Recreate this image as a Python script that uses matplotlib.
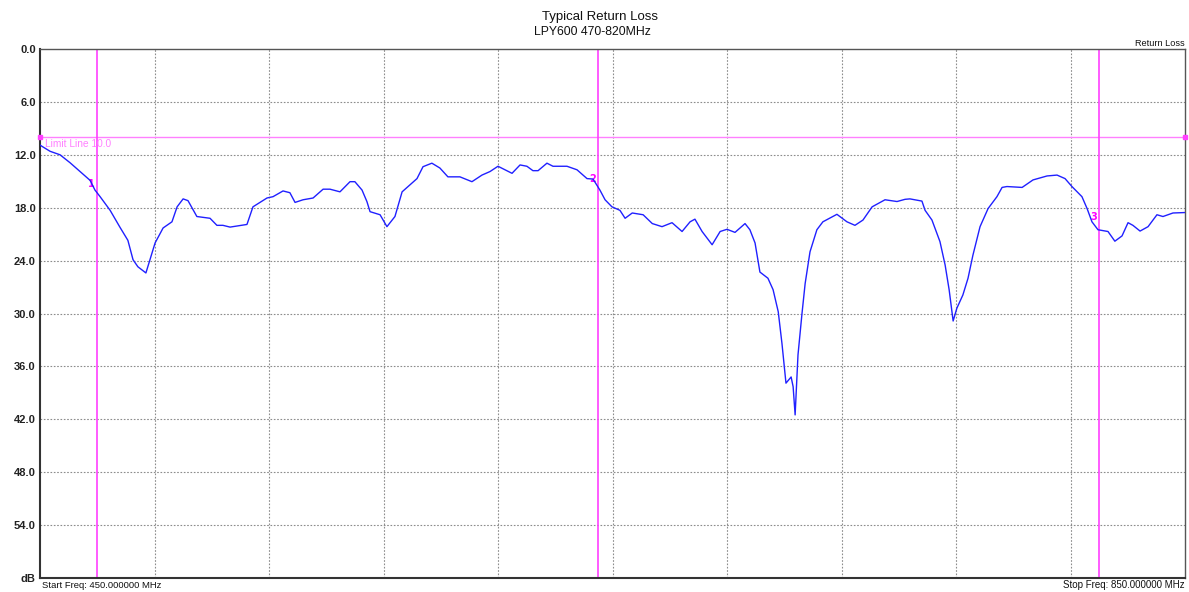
import matplotlib
matplotlib.use("Agg")
import matplotlib.pyplot as plt

# Frequency (MHz) and return loss (dB)
freq_mhz = [450.0, 453.5, 457.0, 460.5, 464.0, 467.5, 469.2, 471.0, 474.5, 477.9,
            480.7, 482.5, 484.2, 487.0, 488.4, 490.2, 493.0, 496.1, 497.9, 500.0,
            501.7, 504.8, 509.4, 511.8, 513.9, 516.4, 522.3, 524.4, 529.3, 531.4,
            534.9, 537.3, 539.1, 541.9, 545.4, 548.9, 551.3, 554.8, 558.3, 560.0,
            562.5, 564.2, 565.3, 568.8, 571.2, 574.0, 576.5, 579.3, 581.7, 583.8,
            586.9, 589.7, 592.5, 596.7, 600.9, 604.4, 607.2, 610.0, 614.9, 617.7,
            620.1, 622.2, 624.0, 627.1, 629.2, 634.1, 637.6, 641.1, 643.2, 645.6,
            647.4, 649.8, 652.6, 654.4, 656.9, 660.7, 663.9, 667.3, 670.8, 674.3,
            677.1, 678.8, 681.3, 684.8, 687.6, 690.0, 692.8, 696.3, 698.0, 699.8,
            701.5, 704.3, 706.1, 707.9, 709.2, 710.6, 712.4, 713.1, 713.8, 714.8,
            716.2, 717.3, 719.0, 721.4, 723.5, 728.4, 731.9, 734.7, 737.5, 740.7,
            745.2, 749.4, 752.2, 753.9, 758.1, 759.2, 761.6, 764.4, 766.2, 767.6,
            769.0, 770.3, 772.4, 774.2, 775.9, 778.4, 781.2, 784.3, 786.1, 787.8,
            793.1, 796.9, 801.8, 805.3, 808.1, 810.5, 814.0, 815.8, 817.5, 819.6,
            823.1, 825.5, 828.0, 830.1, 831.8, 834.3, 837.1, 840.2, 842.3, 845.8,
            850.0]
return_loss_db = [10.9, 11.6, 12.0, 12.9, 13.9, 14.9, 16.0, 16.75, 18.3, 20.2,
                  21.7, 23.9, 24.7, 25.4, 23.9, 22.0, 20.3, 19.6, 17.9, 17.0,
                  17.2, 19.0, 19.2, 20.0, 20.0, 20.2, 19.9, 17.9, 16.9, 16.75,
                  16.1, 16.3, 17.4, 17.1, 16.9, 15.9, 15.9, 16.2, 15.05, 15.05,
                  16.0, 17.3, 18.45, 18.8, 20.15, 19.0, 16.2, 15.4, 14.7, 13.35,
                  12.95, 13.5, 14.5, 14.5, 15.05, 14.3, 13.9, 13.3, 14.1, 13.15,
                  13.3, 13.8, 13.8, 12.95, 13.3, 13.3, 13.7, 14.7, 14.75, 16.0,
                  17.1, 17.9, 18.3, 19.2, 18.6, 18.8, 19.8, 20.15, 19.7, 20.7,
                  19.6, 19.3, 20.7, 22.2, 20.7, 20.45, 20.8, 19.8, 20.5, 22.0,
                  25.3, 26.0, 27.3, 29.8, 33.4, 37.9, 37.2, 38.3, 41.5, 34.7,
                  30.0, 26.6, 23.0, 20.5, 19.6, 18.75, 19.6, 20.0, 19.4, 17.9,
                  17.1, 17.3, 17.05, 17.0, 17.25, 18.3, 19.4, 21.85, 24.5, 27.3,
                  30.85, 29.4, 27.9, 26.0, 23.4, 20.15, 18.1, 16.75, 15.7, 15.6,
                  15.7, 14.85, 14.4, 14.3, 14.7, 15.6, 16.75, 18.1, 19.6, 20.5,
                  20.7, 21.8, 21.2, 19.7, 20.0, 20.65, 20.15, 18.8, 19.0, 18.6,
                  18.55]

marker_freqs = [470.0, 645.0, 820.0]
marker_vals = [15.3, 14.8, 19.0]
marker_names = ["1", "2", "3"]
limit_value = 10.0

y_ticks = [0, 6, 12, 18, 24, 30, 36, 42, 48, 54, 60]
y_tick_labels = ["0.0", "6.0", "12.0", "18.0", "24.0", "30.0", "36.0",
                 "42.0", "48.0", "54.0", "dB"]
x_grid = [490, 530, 570, 610, 650, 690, 730, 770, 810]
f_start, f_stop = 450.0, 850.0

plt.rcParams['font.family'] = ['Liberation Sans', 'DejaVu Sans']

W, H = 1189, 592
fig = plt.figure(figsize=(W / 100, H / 100), dpi=100)
ax = fig.add_axes([40 / W, 1 - 578 / H, (1185 - 40) / W, (578 - 49) / H])

ax.set_xlim(f_start, f_stop)
ax.set_ylim(60, 0)

# grid
for gx in x_grid:
    ax.axvline(gx, color='#8c8c8c', lw=0.8, ls=(0, (1.5, 1.5)), zorder=1)
for gy in y_ticks[1:-1]:
    ax.axhline(gy, color='#8c8c8c', lw=0.8, ls=(0, (1.5, 1.5)), zorder=1)

# limit line
ax.axhline(limit_value, color='#ff80ff', lw=1.0, zorder=2)
ax.plot([f_start, f_stop], [limit_value, limit_value], ls='none', marker='s',
        ms=2.5, color='#ff40ff', clip_on=False, zorder=3)
ax.text(f_start + 1.9, limit_value + 0.75, "Limit Line 10.0", color='#ff80ff',
        fontsize=7.3, va='center', ha='left', zorder=3)

# markers
for mf, mv, mn in zip(marker_freqs, marker_vals, marker_names):
    ax.axvline(mf, color='#ff40ff', lw=1.2, zorder=2)
    ax.text(mf - 0.8, mv, mn, color='#ff00ff', fontsize=7, ha='right',
            va='center', fontweight='bold', family='DejaVu Sans', zorder=4)

# trace
ax.plot(freq_mhz, return_loss_db, color='#2020ff', lw=1.0, zorder=5)

ax.set_yticks(y_ticks)
ax.set_yticklabels(y_tick_labels)
ax.set_xticks([])
ax.tick_params(axis='y', length=0, pad=3, labelsize=8, labelcolor='#222222')
for lbl in ax.get_yticklabels():
    lbl.set_fontweight('bold')
for s in ['left', 'bottom']:
    ax.spines[s].set_color('#333333')
    ax.spines[s].set_linewidth(1.5)
for s in ['top', 'right']:
    ax.spines[s].set_color('#555555')
    ax.spines[s].set_linewidth(1.0)

fig.text(600 / W, 1 - 17 / H, "Typical Return Loss", ha='center', va='center',
         fontsize=9.5, color='#111111')
fig.text(592 / W, 1 - 32 / H, "LPY600 470-820MHz", ha='center', va='center',
         fontsize=8.8, color='#111111')
fig.text(1185 / W, 1 - 43 / H, "Return Loss", ha='right', va='center',
         fontsize=6.6, color='#111111')
fig.text(42 / W, 1 - 585 / H, "Start Freq: 450.000000 MHz", ha='left',
         va='center', fontsize=6.8, color='#111111')
fig.text(1185 / W, 1 - 585 / H, "Stop Freq: 850.000000 MHz", ha='right',
         va='center', fontsize=7.0, color='#111111')

fig.savefig("out.png", dpi=100, facecolor='white')
